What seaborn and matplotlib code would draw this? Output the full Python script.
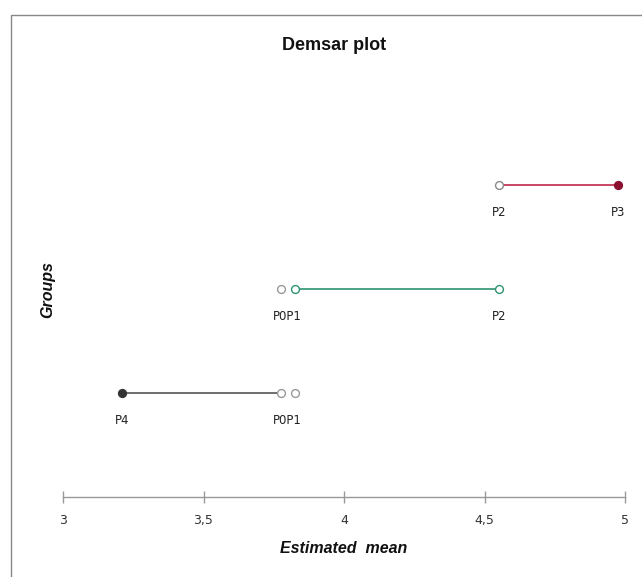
import matplotlib
matplotlib.use("Agg")
import matplotlib.pyplot as plt
import seaborn as sns
import pandas as pd
from matplotlib.lines import Line2D

# ---- data ----
rows = [3, 2, 1]
row_colors = ["#C0284A", "#2E9470", "#555555"]
seg_start = [4.552, 3.826, 3.210]
seg_end = [4.975, 4.552, 3.776]
point_names = ["P2", "P3", "P0", "P1", "P2", "P4", "P0", "P1"]
point_rows = [3, 3, 2, 2, 2, 1, 1, 1]
point_means = [4.552, 4.975, 3.776, 3.826, 4.552, 3.210, 3.776, 3.826]
point_filled = [False, True, False, False, False, True, False, False]
point_edge = ["#888888", "#8B1030", "#999999", "#2E9470", "#2E9470", "#333333", "#999999", "#999999"]
label_text = ["P2", "P3", "P0P1", "P2", "P4", "P0P1"]
label_x = [4.552, 4.975, 3.80, 4.552, 3.210, 3.80]
label_row = [3, 3, 2, 2, 1, 1]
xticks = [3, 3.5, 4, 4.5, 5]
xticklabels = ["3", "3,5", "4", "4,5", "5"]

sns.set_theme(style="white")
plt.rcParams['font.family'] = ['DejaVu Sans']

fig = plt.figure(figsize=(6.42, 5.77), dpi=100)
ax = fig.add_axes([63/642, (577-497)/577, 562/642, 0.721])

for r, c, s, e in zip(rows, row_colors, seg_start, seg_end):
    d = pd.DataFrame({"x": [s, e], "y": [r, r]})
    sns.lineplot(data=d, x="x", y="y", ax=ax, color=c, lw=1.2, legend=False)

for i in range(len(point_means)):
    face = point_edge[i] if point_filled[i] else "white"
    sns.scatterplot(x=[point_means[i]], y=[point_rows[i]], ax=ax, s=32,
                    facecolor=face, edgecolor=point_edge[i], linewidth=1.0,
                    zorder=5, legend=False)

for t, x, r in zip(label_text, label_x, label_row):
    ax.annotate(t, (x, r), xytext=(0, -20), textcoords="offset points",
                ha="center", va="center", fontsize=8.5, color="#222222")

ax.set_xlim(3, 5)
ax.set_ylim(0, 4)
for sp in ["top", "left", "right"]:
    ax.spines[sp].set_visible(False)
ax.spines["bottom"].set_color("#999999")
ax.spines["bottom"].set_linewidth(1.0)
ax.set_yticks([])
ax.set_xticks(xticks)
ax.set_xticklabels(xticklabels, fontsize=9, color="#333333")
ax.tick_params(axis="x", direction="inout", length=9, width=1, color="#999999",
               pad=8, bottom=True)
ax.set_xlabel("Estimated  mean", fontsize=11.5, fontweight="bold", style="italic",
              labelpad=10, color="#111111", family="Liberation Sans")
ax.set_ylabel("")
fig.text(48/642, 1-290/577, "Groups", rotation=90, fontsize=11.5, fontweight="bold",
         style="italic", ha="center", va="center", color="#111111", family="Liberation Sans")
fig.text(334/642, 1-45/577, "Demsar plot", fontsize=13, fontweight="bold",
         ha="center", va="center", color="#111111", family="Liberation Sans")

fig.lines.append(Line2D([11.5/642, 11.5/642, 1.0], [0.0, 1-14.5/577, 1-14.5/577],
                        transform=fig.transFigure, color="#888888", lw=1.0))

fig.savefig("out.png", dpi=100)
